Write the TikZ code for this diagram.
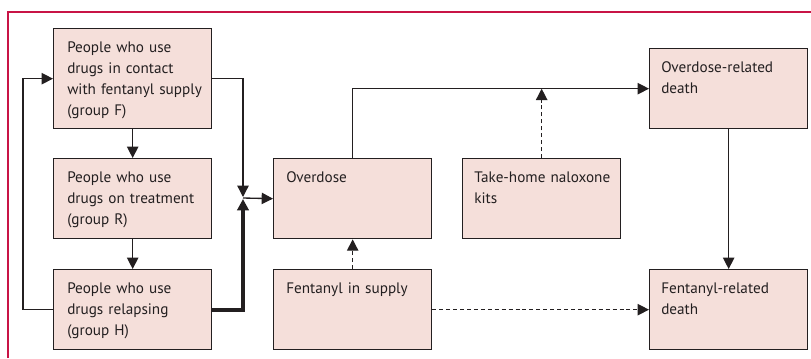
\documentclass[tikz,border=0pt]{standalone}
\usepackage{fontspec}
\setmainfont{PT Sans}
\usetikzlibrary{arrows.meta,calc}
\definecolor{boxfill}{RGB}{245,223,218}
\definecolor{framecol}{RGB}{200,20,70}
\definecolor{ink}{RGB}{35,31,32}
\begin{document}
\begin{tikzpicture}[x=0.75pt,y=-0.75pt,
  box/.style={draw=ink, line width=1pt, fill=boxfill, minimum width=118.5pt, minimum height=60pt, inner sep=0pt, anchor=north west},
  txt/.style={anchor=north west, inner sep=0pt, text width=112pt, align=left, font=\fontsize{11.4}{15.75}\selectfont, text=ink},
  conn/.style={draw=ink, line width=1pt},
  tip/.style={-{Triangle[length=8.5pt,width=8.5pt]}},
  arr/.style={conn, tip},
  dsh/.style={dash pattern=on 3pt off 2.2pt}
]
\useasboundingbox (0,0) rectangle (811,358);
\draw[framecol, line width=1pt] (8,358) -- (8,12) -- (811,12);

\node[box, minimum height=75pt] (F) at (53,28) {};
\node[box] (R) at (53,158) {};
\node[box] (H) at (53,269) {};
\node[box] (O) at (273,158) {};
\node[box] (FS) at (273,269) {};
\node[box] (T) at (462,158) {};
\node[box] (OD) at (649,48) {};
\node[box] (FD) at (649,269) {};

\node[txt] (tF) at ($(F.north west)+(14,10)$) {\strut People who use\\drugs in contact\\with fentanyl supply\\(group F)};
\node[txt] (tR) at ($(R.north west)+(14,10)$) {\strut People who use\\drugs on treatment\\(group R)};
\node[txt] (tH) at ($(H.north west)+(14,10)$) {\strut People who use\\drugs relapsing\\(group H)};
\node[txt] (tO) at ($(O.north west)+(13,10)$) {\strut Overdose};
\node[txt] (tFS) at ($(FS.north west)+(13,10)$) {\strut Fentanyl in supply};
\node[txt] (tT) at ($(T.north west)+(12,10)$) {\strut Take-home naloxone\\kits};
\node[txt] (tOD) at ($(OD.north west)+(12,10)$) {\strut Overdose-related\\death};
\node[txt] (tFD) at ($(FD.north west)+(12,10)$) {\strut Fentanyl-related\\death};

\coordinate (J) at (243,198);
\coordinate (JT) at (243,197);
\coordinate (JB) at (243,199);
\coordinate (LX) at (23,0);

\draw[arr] (F.east) -| (JT);
\draw[conn, line width=3pt, tip] (H.east) -| (JB);
\draw[arr] (J) -- (O.west);
\draw[arr] (F.south) -- (R.north);
\draw[arr] (R.south) -- (H.north);
\draw[arr] (H.west) -- (LX |- H.west) -- (LX |- F.west) -- (F.west);
\draw[arr] (O.north) |- (OD.west);
\draw[arr, dsh] (T.north) -- (T.north |- OD.west);
\draw[arr, dsh] (FS.north) -- (O.south);
\draw[arr, dsh] (FS.east) -- (FD.west);
\draw[arr] (OD.south) -- (FD.north);
\end{tikzpicture}
\end{document}
